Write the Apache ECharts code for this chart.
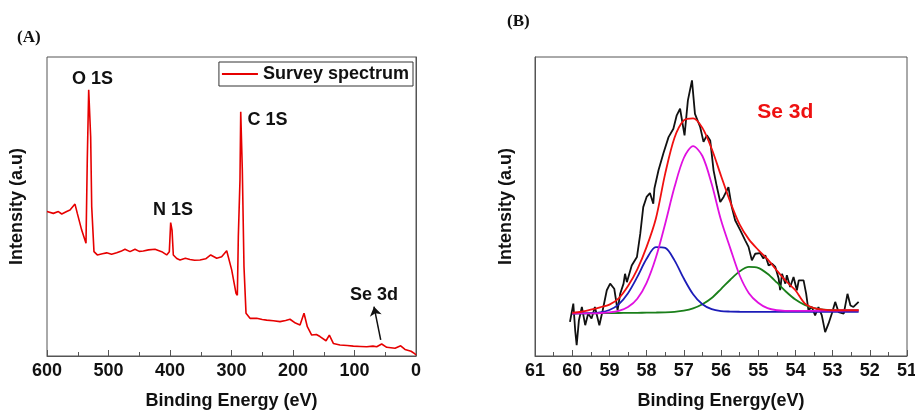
<!DOCTYPE html>
<html>
<head>
<meta charset="utf-8">
<title>XPS spectra</title>
<script src="https://cdn.jsdelivr.net/npm/echarts@6/dist/echarts.min.js"></script>
<style>
  html, body { margin: 0; padding: 0; background: #fff; }
  #chart { width: 915px; height: 411px; }
</style>
</head>
<body>
<div id="chart"></div>
<script>
// (A) survey spectrum, binding energy (eV) vs intensity (a.u., 0-100)
const surveyE = [600, 589.7, 581.5, 576, 568, 562.6, 554.5, 550.7, 543.6, 536.6,
  534.5, 532.2, 530, 529, 527.3, 523.6, 518.2, 510, 503, 495,
  486.7, 480, 473.2, 465, 456.9, 450, 443.4, 435, 424.4, 413.5,
  405.4, 401.1, 398.9, 396.7, 394.6, 389, 383.7, 375, 367.5, 360,
  351.2, 342, 333.8, 324, 316, 307.8, 299.7, 292.7, 290.5, 288.9,
  286.2, 285, 283.4, 282.4, 279.7, 276.4, 269.9, 259, 250, 242.8,
  232, 221.1, 212, 204.9, 196, 188.6, 182.1, 176.7, 169.6, 162,
  156.1, 146.3, 140.9, 134.4, 123.6, 112, 101.9, 90, 80.2, 70,
  63.9, 55.8, 47.6, 34.1, 24.9, 17.9, 8, 1.6, 0];
const surveyI = [48.3, 47.7, 48.3, 47.5, 48.3, 48.8, 50.8, 47.7, 42.1, 37.7,
  65.6, 89, 89, 73.3, 49.9, 34.9, 33.8, 34.2, 34.5, 34.0,
  34.5, 35.0, 35.7, 34.9, 35.7, 35.0, 35.1, 35.5, 35.7, 34.9,
  33.8, 34.9, 44.6, 42.1, 33.8, 32.6, 32.1, 32.7, 32.3, 32.0,
  32.1, 32.5, 33.8, 32.7, 33.2, 35.2, 28.8, 21, 20.3, 39.9,
  58.9, 81.7, 81.7, 62.2, 29.9, 14.3, 12.6, 12.6, 12.2, 12.0,
  11.8, 11.5, 11.9, 12.3, 11.0, 10.4, 14.3, 9.8, 7.0, 7.2,
  6.5, 5.1, 7.0, 4.2, 3.7, 3.5, 3.3, 3.2, 3.1, 3.3,
  3.1, 4.0, 2.9, 2.6, 3.4, 2.2, 1.6, 0.7, 0.3];

// (B) Se 3d high resolution: raw data
const rawE = [60.06, 59.97, 59.92, 59.88, 59.82, 59.74, 59.65, 59.57, 59.48, 59.39,
  59.27, 59.18, 59.07, 58.98, 58.87, 58.78, 58.71, 58.62, 58.58, 58.53,
  58.40, 58.26, 58.17, 58.09, 58.00, 57.91, 57.82, 57.79, 57.68, 57.55,
  57.41, 57.28, 57.19, 57.10, 56.98, 56.89, 56.78, 56.70, 56.56, 56.47,
  56.38, 56.29, 56.20, 56.11, 56.02, 55.93, 55.80, 55.71, 55.62, 55.48,
  55.35, 55.26, 55.17, 55.08, 54.95, 54.86, 54.81, 54.72, 54.63, 54.54,
  54.45, 54.41, 54.36, 54.27, 54.23, 54.14, 54.05, 53.96, 53.91, 53.78,
  53.71, 53.65, 53.56, 53.47, 53.38, 53.29, 53.20, 53.11, 53.02, 52.93,
  52.84, 52.70, 52.60, 52.52, 52.44, 52.30];
const rawI = [11.4, 17.5, 8.6, 3.6, 11.9, 16.4, 10.3, 14.2, 12.5, 16.4,
  10.3, 15.3, 22.0, 24.2, 22.5, 15.3, 20.8, 24.2, 27.5, 24.7,
  30.3, 33.1, 40.9, 49.8, 53.2, 54.5, 50.9, 56.0, 62.1, 67.7,
  73.2, 76.0, 80.5, 82.7, 73.8, 85.5, 92.2, 81.0, 76.6, 71.6,
  73.8, 72.1, 62.1, 56.5, 51.5, 53.2, 56.5, 49.8, 45.4, 42.0,
  38.7, 36.5, 32.0, 34.2, 34.4, 32.6, 33.7, 30.3, 30.9, 29.8,
  25.9, 22.0, 27.5, 24.2, 27.0, 23.1, 26.4, 22.0, 25.3, 25.3,
  20.8, 15.3, 16.4, 13.6, 16.4, 13.6, 8.0, 10.8, 14.2, 18.1,
  14.7, 14.2, 20.8, 16.9, 16.4, 18.1];

// (B) fitted curves, read on a common energy grid
const fitE = [60, 59.75, 59.5, 59.25, 59, 58.75, 58.5, 58.25, 58, 57.75,
  57.5, 57.25, 57, 56.75, 56.5, 56.25, 56, 55.75, 55.5, 55.25,
  55, 54.75, 54.5, 54.25, 54, 53.75, 53.5, 53.25, 53, 52.75,
  52.5, 52.3];
const fitRed = [14.4, 14.8, 15.5, 16.3, 17.2, 19.3, 23.4, 29.0, 36.5, 46,
  61, 73, 78.8, 79.5, 76.3, 69.3, 60.3, 51.5, 44, 39,
  35.5, 32.4, 28.6, 25, 22, 17.6, 16, 15.5, 15.3, 15.3,
  15.3, 15.3];
const fitMagenta = [14.2, 14.24, 14.28, 14.37, 14.56, 15.08, 16.36, 19.15, 24.48, 32.92,
  44.25, 56.49, 66.22, 70.16, 66.89, 57.53, 45.46, 36.0, 27.0, 21.0,
  17.8, 16.0, 15.3, 15.1, 15.06, 15.08, 15.11, 15.15, 15.18, 15.22,
  15.25, 15.28];
const fitBlue = [14.2, 14.25, 14.34, 14.62, 15.39, 17.28, 21.0, 26.45, 32.5, 36.4,
  36.15, 31.99, 25.92, 20.66, 17.29, 15.65, 15.02, 14.86, 14.8, 14.78,
  14.76, 14.75, 14.75, 14.75, 14.75, 14.75, 14.75, 14.75, 14.75, 14.75,
  14.75, 14.75];
const fitGreen = [14.2, 14.24, 14.27, 14.31, 14.34, 14.38, 14.41, 14.45, 14.49, 14.54,
  14.62, 14.79, 15.16, 15.92, 17.3, 19.4, 22.4, 25.5, 28.3, 29.8,
  29.5, 27.5, 24.6, 21.5, 18.9, 17.1, 16.05, 15.54, 15.32, 15.27,
  15.25, 15.28];

const zip = (xs, ys) => xs.map((x, i) => [x, ys[i]]);

const FONT = 'Liberation Sans, Arial, sans-serif';
const AXIS_COLOR = '#555';

function xAxisOf(gridIndex, min, max, interval, name) {
  return {
    type: 'value', gridIndex, min, max, interval, inverse: true,
    name, nameLocation: 'middle', nameGap: 36,
    nameTextStyle: { fontFamily: FONT, fontWeight: 'bold', fontSize: 18, color: '#111' },
    axisLine: { show: true, lineStyle: { color: AXIS_COLOR, width: 1 } },
    axisTick: { show: true, inside: true, length: 6, lineStyle: { color: AXIS_COLOR } },
    minorTick: { show: true, splitNumber: 2, length: 4, lineStyle: { color: AXIS_COLOR } },
    axisLabel: { fontFamily: FONT, fontWeight: 'bold', fontSize: 18, color: '#111', margin: 6 },
    splitLine: { show: false }
  };
}

function yAxisOf(gridIndex, nameGap) {
  return {
    type: 'value', gridIndex, min: 0, max: 100,
    name: 'Intensity (a.u)', nameLocation: 'middle', nameGap,
    nameTextStyle: { fontFamily: FONT, fontWeight: 'bold', fontSize: 18, color: '#111' },
    axisLine: { show: true, lineStyle: { color: AXIS_COLOR, width: 1 } },
    axisTick: { show: false },
    axisLabel: { show: false },
    splitLine: { show: false }
  };
}

function fitLine(name, data, color) {
  return {
    name, type: 'line', xAxisIndex: 1, yAxisIndex: 1,
    data, smooth: 0.3, showSymbol: false,
    lineStyle: { color, width: 1.8 }, itemStyle: { color }
  };
}

const chart = echarts.init(document.getElementById('chart'));

chart.setOption({
  animation: false,
  backgroundColor: '#fff',
  grid: [
    { left: 47, right: 499, top: 57, bottom: 55, outerBoundsMode: 'none', containLabel: false,
      show: true, borderColor: AXIS_COLOR, borderWidth: 1 },
    { left: 535, right: 8, top: 57, bottom: 55, outerBoundsMode: 'none', containLabel: false,
      show: true, borderColor: AXIS_COLOR, borderWidth: 1 }
  ],
  title: [
    { text: '(A)', left: 12, top: 24, textStyle: { fontFamily: 'Liberation Serif, serif', fontWeight: 'bold', fontSize: 17, color: '#111' } },
    { text: '(B)', left: 502, top: 8, textStyle: { fontFamily: 'Liberation Serif, serif', fontWeight: 'bold', fontSize: 17, color: '#111' } }
  ],
  legend: {
    data: [{ name: 'Survey spectrum', icon: 'rect' }],
    right: 502, top: 62,
    itemWidth: 36, itemHeight: 2, itemGap: 6,
    borderColor: '#333', borderWidth: 1, padding: [3, 4, 3, 3],
    textStyle: { fontFamily: FONT, fontWeight: 'bold', fontSize: 18, color: '#111' }
  },
  xAxis: [
    xAxisOf(0, 0, 600, 100, 'Binding Energy (eV)'),
    xAxisOf(1, 51, 61, 1, 'Binding Energy(eV)')
  ],
  yAxis: [yAxisOf(0, 21), yAxisOf(1, 20)],
  series: [
    {
      name: 'Survey spectrum', type: 'line', xAxisIndex: 0, yAxisIndex: 0,
      data: zip(surveyE, surveyI), showSymbol: false,
      lineStyle: { color: '#e60000', width: 1.6 }, itemStyle: { color: '#e60000' },
      markPoint: {
        symbol: 'circle', symbolSize: 0, silent: true,
        label: {
          show: true, position: 'inside', formatter: p => p.name,
          fontFamily: FONT, fontWeight: 'bold', fontSize: 18, color: '#111'
        },
        data: [
          { name: 'O 1S', coord: [526, 92.6] },
          { name: 'C 1S', coord: [241.5, 78.9] },
          { name: 'N 1S', coord: [395, 48.8] },
          { name: 'Se 3d', coord: [68.3, 20.4] }
        ]
      },
      markLine: {
        silent: true, symbol: ['none', 'arrow'], symbolSize: 9,
        lineStyle: { color: '#111', width: 1.5, type: 'solid' },
        label: { show: false },
        data: [[{ coord: [57.4, 5.4] }, { coord: [68.3, 16.5] }]]
      }
    },
    {
      name: 'raw', type: 'line', xAxisIndex: 1, yAxisIndex: 1,
      data: zip(rawE, rawI), showSymbol: false,
      lineStyle: { color: '#111', width: 1.8 }, itemStyle: { color: '#111' },
      markPoint: {
        symbol: 'circle', symbolSize: 0, silent: true,
        label: {
          show: true, position: 'inside', formatter: p => p.name,
          fontFamily: FONT, fontWeight: 'bold', fontSize: 21, color: '#ee1111'
        },
        data: [{ name: 'Se 3d', coord: [54.27, 81.5] }]
      }
    },
    fitLine('green', zip(fitE, fitGreen), '#1a7f1a'),
    fitLine('blue', zip(fitE, fitBlue), '#1c1cb8'),
    fitLine('magenta', zip(fitE, fitMagenta), '#e010e0'),
    fitLine('fit', zip(fitE, fitRed), '#f01010')
  ]
});
</script>
</body>
</html>
